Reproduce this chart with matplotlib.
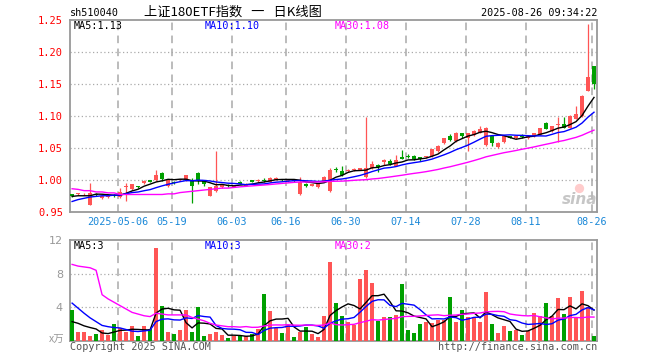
import numpy as np
import pandas as pd
import matplotlib
matplotlib.use("Agg")
import matplotlib.pyplot as plt

# daily bars of sh510040, 2025-04-21 .. 2025-08-26 (88 sessions)
opens = [0.977, 0.977, 0.977, 0.961, 0.978, 0.972, 0.973, 0.976, 0.973, 0.988,
         0.985, 0.990, 0.995, 0.999, 0.999, 1.010, 0.990, 0.997, 0.999, 0.999,
         1.000, 1.011, 0.998, 0.975, 0.982, 0.988, 0.992, 0.989, 0.996, 0.991,
         0.999, 0.998, 1.000, 0.997, 1.000, 1.001, 0.998, 1.000, 0.977, 0.994,
         0.991, 0.988, 0.997, 0.982, 1.017, 1.014, 1.014, 1.015, 1.016, 1.004,
         1.018, 1.024, 1.028, 1.029, 1.022, 1.036, 1.038, 1.038, 1.035, 1.035,
         1.037, 1.045, 1.057, 1.069, 1.061, 1.073, 1.066, 1.070, 1.074, 1.054,
         1.069, 1.051, 1.059, 1.068, 1.065, 1.069, 1.065, 1.068, 1.071, 1.089,
         1.076, 1.086, 1.087, 1.082, 1.096, 1.100, 1.140, 1.178]
closes = [0.975, 0.979, 0.978, 0.980, 0.976, 0.974, 0.975, 0.974, 0.981, 0.990,
          0.993, 0.988, 0.998, 0.997, 1.007, 1.002, 1.000, 0.995, 1.001, 1.007,
          0.990, 0.998, 0.994, 0.988, 0.991, 0.993, 0.990, 0.991, 0.994, 0.994,
          0.997, 1.000, 0.998, 1.003, 1.003, 0.999, 1.000, 0.998, 0.997, 0.990,
          0.993, 0.993, 1.004, 1.016, 1.015, 1.007, 1.016, 1.017, 1.018, 1.018,
          1.025, 1.020, 1.031, 1.025, 1.031, 1.033, 1.036, 1.032, 1.032, 1.037,
          1.048, 1.053, 1.065, 1.062, 1.074, 1.069, 1.073, 1.077, 1.080, 1.082,
          1.058, 1.058, 1.068, 1.066, 1.068, 1.067, 1.068, 1.073, 1.081, 1.080,
          1.084, 1.087, 1.082, 1.100, 1.103, 1.132, 1.161, 1.150]
highs = [0.978, 0.980, 0.979, 0.995, 0.979, 0.975, 0.976, 0.977, 0.987, 0.995,
         0.994, 0.991, 0.999, 1.000, 1.015, 1.013, 1.002, 0.998, 1.002, 1.008,
         1.003, 1.012, 0.999, 0.989, 1.045, 0.994, 0.993, 0.992, 0.998, 0.995,
         1.000, 1.001, 1.003, 1.004, 1.004, 1.002, 1.001, 1.001, 1.005, 0.995,
         0.994, 0.994, 1.006, 1.018, 1.020, 1.021, 1.017, 1.018, 1.019, 1.099,
         1.029, 1.025, 1.032, 1.033, 1.039, 1.046, 1.040, 1.039, 1.036, 1.038,
         1.049, 1.054, 1.066, 1.072, 1.075, 1.074, 1.074, 1.078, 1.084, 1.083,
         1.070, 1.059, 1.069, 1.069, 1.069, 1.072, 1.069, 1.074, 1.082, 1.090,
         1.085, 1.098, 1.098, 1.101, 1.115, 1.133, 1.245, 1.179]
lows = [0.973, 0.976, 0.976, 0.960, 0.975, 0.970, 0.972, 0.973, 0.972, 0.966,
        0.984, 0.987, 0.994, 0.996, 0.998, 0.998, 0.989, 0.994, 0.998, 0.998,
        0.963, 0.993, 0.990, 0.974, 0.981, 0.987, 0.989, 0.988, 0.993, 0.990,
        0.996, 0.997, 0.996, 0.996, 0.999, 0.998, 0.997, 0.997, 0.976, 0.988,
        0.990, 0.987, 0.996, 0.981, 1.012, 1.006, 1.013, 1.014, 1.015, 1.003,
        1.017, 1.012, 1.023, 1.024, 1.021, 1.032, 1.034, 1.031, 1.030, 1.034,
        1.036, 1.044, 1.056, 1.061, 1.060, 1.066, 1.045, 1.069, 1.073, 1.053,
        1.053, 1.050, 1.058, 1.065, 1.064, 1.066, 1.064, 1.067, 1.070, 1.079,
        1.075, 1.059, 1.081, 1.081, 1.095, 1.099, 1.139, 1.143]
# volume, x万
vols = [3.65, 1.03, 1.03, 0.56, 0.87, 1.27, 0.67, 1.98, 1.50, 1.07,
        1.75, 0.56, 1.75, 1.47, 11.07, 4.13, 1.03, 0.80, 1.27, 3.65,
        1.03, 4.00, 0.63, 0.80, 1.03, 0.67, 0.32, 0.63, 0.63, 0.56,
        0.87, 1.47, 5.56, 3.53, 1.59, 0.91, 1.87, 0.44, 1.07, 1.63,
        0.80, 0.44, 2.94, 9.37, 4.52, 2.94, 2.30, 1.94, 7.34, 8.41,
        6.90, 2.34, 2.82, 2.82, 3.06, 6.75, 1.27, 0.91, 1.98, 2.22,
        2.10, 2.54, 2.54, 5.20, 2.22, 3.65, 2.82, 2.82, 2.22, 5.79,
        1.98, 0.91, 1.75, 1.15, 1.27, 0.67, 1.15, 3.29, 2.94, 4.48,
        2.94, 5.08, 3.17, 5.20, 2.70, 5.91, 4.00, 0.56]

# first points of each moving average depend on earlier sessions ->
ma5_head = [0.974, 0.975, 0.975, 0.975]
ma10_head = [0.966, 0.969, 0.971, 0.973, 0.974, 0.975, 0.975, 0.976, 0.976]
ma30_head = [0.986, 0.985, 0.983, 0.983, 0.981, 0.981, 0.9795, 0.9795,
             0.977, 0.977, 0.977, 0.977, 0.977, 0.977, 0.977, 0.977,
             0.978, 0.978, 0.980, 0.981, 0.982, 0.983, 0.984, 0.985,
             0.986, 0.987, 0.987, 0.988, 0.989]
vma5_head = [2.3, 2.1, 1.8, 1.6]
vma10_head = [4.5, 3.9, 3.3, 2.75, 2.3, 1.85, 1.7, 1.6, 1.55]
vma30_head = [9.1, 8.9, 8.8, 8.7, 8.4, 5.5, 5.0, 4.6, 4.2, 3.8,
              3.4, 3.2, 3.0, 2.9, 3.3, 3.2, 3.1, 3.1, 3.1, 3.1,
              2.8, 2.6, 2.4, 2.1, 1.9, 1.8, 1.7, 1.7, 1.65]

date_idx = [8, 17, 27, 36, 46, 56, 66, 76, 87]
date_labels = ["2025-05-06", "05-19", "06-03", "06-16", "06-30",
               "07-14", "07-28", "08-11", "08-26"]
price_ticks = [0.95, 1.00, 1.05, 1.10, 1.15, 1.20, 1.25]
vol_ticks = [4, 8, 12]


def ma(values, n, head):
    s = pd.Series(values).rolling(n).mean().to_numpy()
    s[:len(head)] = head
    return s


RED = "#ff5555"
GREEN = "#00a000"
GRID = "#aaaaaa"
MONO = "DejaVu Sans Mono"
CJK = ["Noto Sans CJK SC", "DejaVu Sans"]

W, H = 660, 360
fig = plt.figure(figsize=(6.6, 3.6), dpi=100)


def box(l, t, r, b):
    return [l / W, 1 - b / H, (r - l) / W, (b - t) / H]


def px(xp, yp):
    return xp / W, 1 - yp / H


ax = fig.add_axes(box(70, 20.4, 597, 211.7))
axv = fig.add_axes(box(70, 240, 597, 341))

x = np.arange(len(closes))
o = np.array(opens)
c = np.array(closes)
colors = np.where(c >= o, RED, GREEN)

# candles
ax.vlines(x, lows, highs, colors=colors, lw=0.9, zorder=3)
ax.bar(x, np.maximum(np.abs(c - o), 0.0013), 0.8, bottom=np.minimum(o, c),
       color=colors, linewidth=0, zorder=4)
ax.plot(x, ma(closes, 5, ma5_head), color="black", lw=1, zorder=5)
ax.plot(x, ma(closes, 10, ma10_head), color="#0000ff", lw=1, zorder=5)
ax.plot(x, ma(closes, 30, ma30_head), color="#ff00ff", lw=1, zorder=5)

# volume
axv.bar(x, vols, 0.72, color=colors, linewidth=0, zorder=3)
axv.plot(x, ma(vols, 5, vma5_head), color="black", lw=1, zorder=5)
axv.plot(x, ma(vols, 10, vma10_head), color="#0000ff", lw=1, zorder=5)
axv.plot(x, ma(vols, 30, vma30_head), color="#ff00ff", lw=1, zorder=5)

for a in (ax, axv):
    a.set_xlim(-0.35, 87.5)
    for d in date_idx:
        a.axvline(d - 0.35, color=GRID, lw=1.1, ls=(0, (5, 3.5)), zorder=1)
    for s in a.spines.values():
        s.set_color("#999999")
        s.set_linewidth(1.3)

ax.set_ylim(0.95, 1.25)
for p in price_ticks[1:-1]:
    ax.axhline(p, color=GRID, lw=0.9, ls=(0, (1, 2)), zorder=1)
ax.set_yticks(price_ticks)
ax.set_yticklabels(["%.2f" % p for p in price_ticks], color="red",
                   fontfamily=MONO, fontsize=7.5)
ax.set_xticks(np.array(date_idx) - 0.35)
ax.set_xticklabels(date_labels, color="#1a88d8", fontfamily=MONO, fontsize=7.3)
ax.tick_params(length=0, pad=4)
ax.tick_params(axis="y", pad=5)

axv.set_ylim(0, 12)
for v in vol_ticks[:-1]:
    axv.axhline(v, color=GRID, lw=0.9, ls=(0, (1, 2)), zorder=1)
axv.set_yticks(vol_ticks)
axv.set_yticklabels([str(v) for v in vol_ticks], color="#999999", fontsize=8)
axv.set_xticks([])
axv.tick_params(length=0, pad=5)

# header
fig.text(*px(70, 13), "sh510040", fontfamily=MONO, fontsize=7.3, va="center")
fig.text(*px(233, 12.5), "上证180ETF指数   一   日K线图", family=CJK, fontsize=9.5,
         ha="center", va="center")
fig.text(*px(597, 13), "2025-08-26 09:34:22", fontfamily=MONO, fontsize=7.3,
         ha="right", va="center")

# moving average labels
for yp, vals in ((26, ("MA5:1.13", "MA10:1.10", "MA30:1.08")),
                 (246, ("MA5:3", "MA10:3", "MA30:2"))):
    for xp, t, col in zip((74, 204.5, 334.5), vals, ("black", "#0000ff", "#ff00ff")):
        fig.text(*px(xp, yp), t, fontfamily=MONO, fontsize=7.3, color=col,
                 va="center")

# footer
fig.text(*px(64, 340), "x万", family=CJK, fontsize=7.5, color="#999999",
         ha="right", va="center")
fig.text(*px(70, 347), "Copyright 2025 SINA.COM", fontfamily=MONO, fontsize=7.3,
         color="#555555", va="center")
fig.text(*px(597, 347), "http://finance.sina.com.cn", fontfamily=MONO,
         fontsize=7.3, color="#555555", ha="right", va="center")

# watermark
ax.scatter([0.965], [0.125], s=45, color="#ff8080", alpha=0.4, linewidths=0,
           transform=ax.transAxes, zorder=10)
fig.text(*px(580, 199), "sina", fontsize=11, fontweight="bold", style="italic",
         color="#b8b8b8", alpha=0.8, ha="center", va="center", zorder=10)

fig.savefig("out.png", dpi=100)
